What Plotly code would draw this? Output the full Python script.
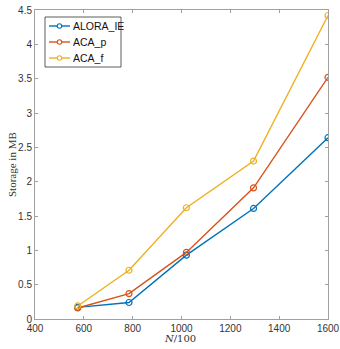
import plotly.graph_objects as go

x_vals = [575, 785, 1020, 1295, 1600]
alora_ie = [0.17, 0.24, 0.93, 1.61, 2.64]
aca_p = [0.16, 0.37, 0.97, 1.91, 3.52]
aca_f = [0.19, 0.71, 1.62, 2.30, 4.42]
series_names = ["ALORA_IE", "ACA_p", "ACA_f"]
colors = ["#0072BD", "#D95319", "#EDB120"]
x_ticks = [400, 600, 800, 1000, 1200, 1400, 1600]
y_ticks = [0, 0.5, 1, 1.5, 2, 2.5, 3, 3.5, 4, 4.5]
y_tick_text = ["0", "0.5", "1", "1.5", "2", "2.5", "3", "3.5", "4", "4.5"]

W, H = 340, 349
L, R, T, B = 35, 12, 10, 30
PW, PH = W - L - R, H - T - B

def fx(px):
    return (px - L) / PW

def fy(py):
    return (H - B - py) / PH

fig = go.Figure()
for name, ys, c in zip(series_names, [alora_ie, aca_p, aca_f], colors):
    fig.add_trace(go.Scatter(
        x=x_vals, y=ys, name=name, mode="lines+markers",
        line=dict(color=c, width=1.4),
        marker=dict(symbol="circle-open", size=6, color=c, line=dict(width=1.2)),
        showlegend=False,
    ))

axis_common = dict(
    showgrid=False, zeroline=False, showline=True, linecolor="#a0a0a0", linewidth=1,
    mirror="ticks", ticks="inside", ticklen=3, tickcolor="#a0a0a0", automargin=False,
    tickfont=dict(family="Liberation Sans, Arial", size=10, color="#333333"),
)

shapes = []
annotations = []
# legend box
shapes.append(dict(type="rect", xref="paper", yref="paper",
                   x0=fx(45), x1=fx(121), y0=fy(67), y1=fy(17),
                   line=dict(color="#333333", width=0.8), fillcolor="white", layer="above"))
rows = [26, 42, 58]
for name, c, ry in zip(series_names, colors, rows):
    shapes.append(dict(type="line", xref="paper", yref="paper",
                       x0=fx(49), x1=fx(70), y0=fy(ry), y1=fy(ry),
                       line=dict(color=c, width=1.4), layer="above"))
    shapes.append(dict(type="circle", xref="paper", yref="paper",
                       xsizemode="pixel", ysizemode="pixel",
                       xanchor=fx(59.5), yanchor=fy(ry),
                       x0=-2.2, x1=2.2, y0=-2.2, y1=2.2,
                       line=dict(color=c, width=1.1), fillcolor="white", layer="above"))
    annotations.append(dict(text=name, xref="paper", yref="paper", x=fx(71), y=fy(ry),
                            xanchor="left", yanchor="middle", showarrow=False,
                            font=dict(family="Liberation Sans, Arial", size=10.5, color="#111111")))

annotations.append(dict(text="<i>N</i>/100", xref="paper", yref="paper", x=fx(180), y=fy(339),
                        xanchor="center", yanchor="middle", showarrow=False,
                        font=dict(family="DejaVu Serif, Liberation Serif", size=10, color="#333333")))
annotations.append(dict(text="Storage in MB", xref="paper", yref="paper", x=fx(12), y=fy(165),
                        xanchor="center", yanchor="middle", showarrow=False, textangle=-90,
                        font=dict(family="Liberation Serif, DejaVu Serif", size=11, color="#333333")))

fig.update_layout(
    width=W, height=H,
    margin=dict(l=L, r=R, t=T, b=B, autoexpand=False),
    paper_bgcolor="white", plot_bgcolor="white",
    xaxis=dict(range=[400, 1600], tickvals=x_ticks, **axis_common),
    yaxis=dict(range=[0, 4.5], tickvals=y_ticks, ticktext=y_tick_text, **axis_common),
    shapes=shapes, annotations=annotations,
    showlegend=False,
)

fig.write_html("out.html")
